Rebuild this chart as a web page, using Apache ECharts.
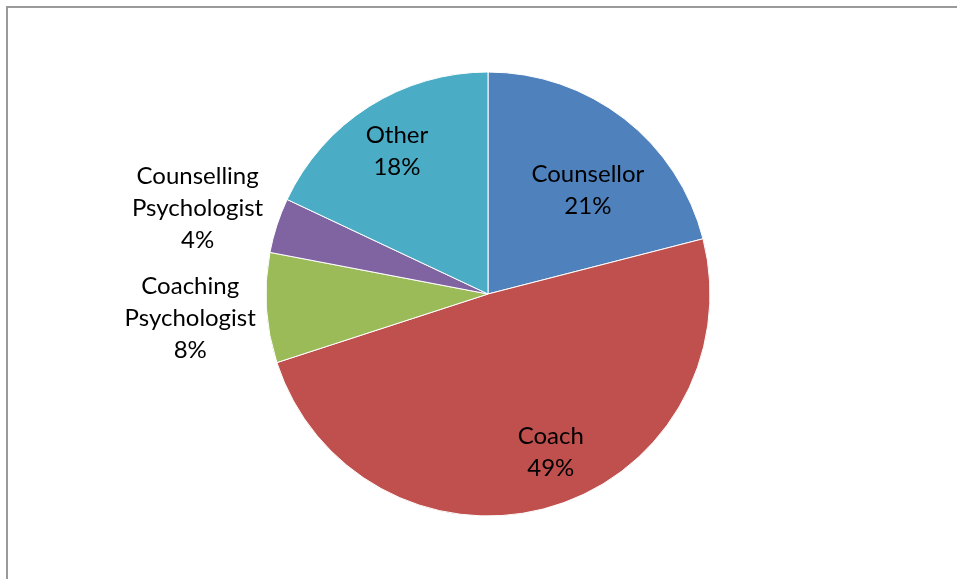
<!DOCTYPE html>
<html>
<head>
<meta charset="utf-8">
<script src="https://cdn.jsdelivr.net/npm/echarts@6/dist/echarts.min.js"></script>
<style>
  html, body { margin: 0; padding: 0; background: #fff; }
  #chart { width: 957px; height: 579px; }
</style>
</head>
<body>
<div id="chart"></div>
<script>
// Professional background of respondents (share of total, %)
const categories = ['Counsellor', 'Coach', 'Coaching\nPsychologist', 'Counselling\nPsychologist', 'Other'];
const shares = [21, 49, 8, 4, 18];
const colors = ['#4F81BD', '#C0504D', '#9BBB59', '#8064A2', '#4BACC6'];

// Label nudges from the default inside position of each slice
const labelShift = [[30, -14], [31, 49], [-184, 17], [-182, -51], [-30, -46]];

const chart = echarts.init(document.getElementById('chart'), null, { renderer: 'canvas' });

chart.setOption({
  backgroundColor: '#fff',
  animation: false,
  graphic: [{
    type: 'polyline',
    shape: { points: [[7, 600], [7, 7], [970, 7]] },
    style: { stroke: '#9a9a9a', lineWidth: 2, fill: null }
  }],
  series: [{
    type: 'pie',
    center: [488, 294],
    radius: 222,
    startAngle: 90,
    clockwise: true,
    silent: true,
    itemStyle: { borderColor: '#ffffff', borderWidth: 1 },
    label: {
      show: true,
      position: 'inside',
      formatter: p => p.name + '\n' + p.value + '%',
      fontFamily: 'Lato',
      fontSize: 24,
      lineHeight: 32,
      color: '#000',
      align: 'center'
    },
    labelLine: { show: false },
    labelLayout: params => ({ dx: labelShift[params.dataIndex][0], dy: labelShift[params.dataIndex][1] }),
    data: categories.map((name, i) => ({ name, value: shares[i], itemStyle: { color: colors[i] } }))
  }]
});
</script>
</body>
</html>
